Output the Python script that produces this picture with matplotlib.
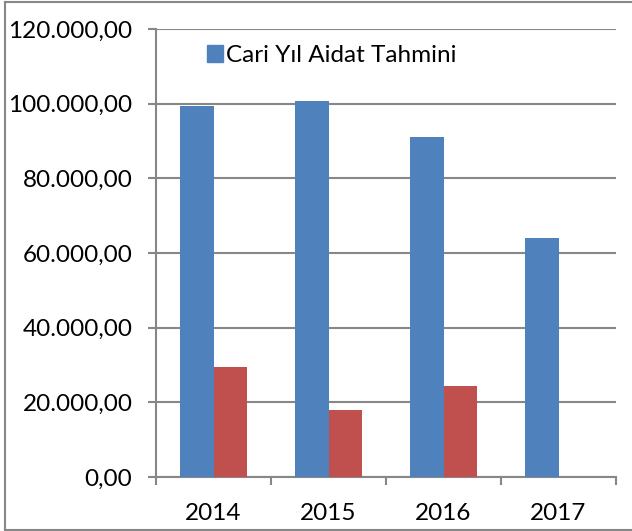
import matplotlib
matplotlib.use("Agg")
import matplotlib.pyplot as plt
from matplotlib.lines import Line2D
from matplotlib.patches import Patch
import numpy as np

years = ["2014", "2015", "2016", "2017"]
aidat_tahmini = [99300, 100700, 91000, 64000]
ikinci_seri = [29500, 18000, 24500, 0]
legend_label = "Cari Yıl Aidat Tahmini"
y_ticks = [0, 20000, 40000, 60000, 80000, 100000, 120000]


def tr_format(v):
    # 120000 -> "120.000,00"
    s = "{:,.2f}".format(v)
    return s.replace(",", "X").replace(".", ",").replace("X", ".")


plt.rcParams['font.family'] = ['Lato', 'DejaVu Sans']
grey = "#878787"

fig = plt.figure(figsize=(6.32, 5.31), dpi=100)
ax = fig.add_axes([156 / 632, 1 - 477 / 531, 460 / 632, 448 / 531])

x = np.arange(len(years))
w = 0.287
ax.bar(x - w / 2, aidat_tahmini, w, color="#4F81BD", zorder=3)
ax.bar(x + w / 2, ikinci_seri, w, color="#C0504D", zorder=3)

ax.set_xlim(-0.5, len(years) - 0.5)
ax.set_ylim(0, 120000)
ax.set_yticks(y_ticks)
ax.set_yticklabels([tr_format(v) for v in y_ticks], fontsize=17.5)
ax.yaxis.grid(True, color=grey, linewidth=1.5, zorder=0)

ax.set_xticks(x)
ax.set_xticklabels(years, fontsize=17.5)
ax.set_xticks(np.arange(len(years) + 1) - 0.5, minor=True)
ax.tick_params(axis="x", which="major", length=0, pad=19)
ax.tick_params(axis="x", which="minor", length=6, width=1.5, color=grey)
ax.tick_params(axis="y", length=6, width=1.5, color=grey, pad=11)

for side in ["top", "right"]:
    ax.spines[side].set_visible(False)
for side in ["left", "bottom"]:
    ax.spines[side].set_color(grey)
    ax.spines[side].set_linewidth(1.5)

ax.legend(handles=[Patch(color="#4F81BD", label=legend_label)],
          loc="upper left", bbox_to_anchor=(0.09, 0.985), frameon=False,
          fontsize=17.5, handlelength=0.65, handleheight=0.7, handletextpad=0.12,
          borderaxespad=0)

# outer chart border (left, top, bottom)
for xs, ys in [([5, 5], [2, 530]), ([5, 632], [2, 2]), ([5, 632], [530, 530])]:
    fig.add_artist(Line2D([v / 632 for v in xs], [1 - v / 531 for v in ys],
                          color=grey, linewidth=1.5))

fig.savefig("out.png", dpi=100)
